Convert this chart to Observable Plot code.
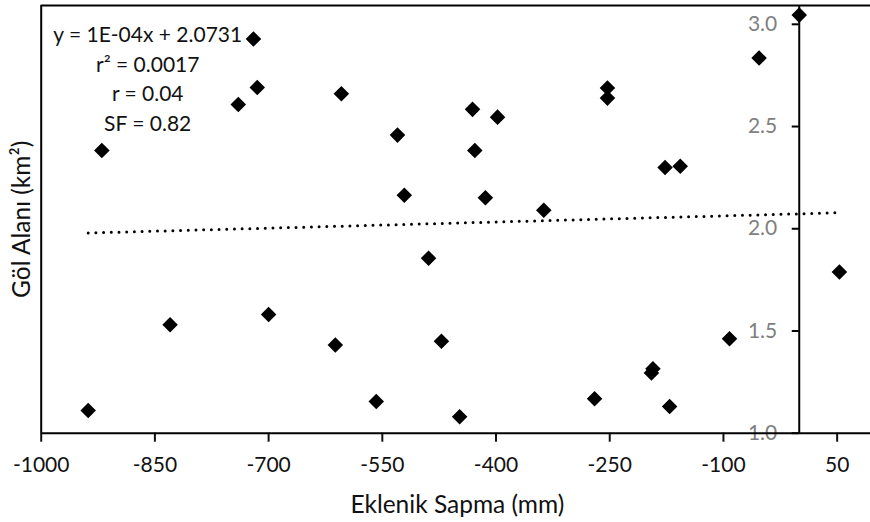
<!DOCTYPE html>
<html><head><meta charset="utf-8">
<script src="https://cdn.jsdelivr.net/npm/d3@7"></script>
<script src="https://cdn.jsdelivr.net/npm/@observablehq/plot@0.6"></script>
<style>body{margin:0;background:#fff;}</style>
</head><body><div id="chart"></div>
<script>
const xValues = [-720, -715, -740, -920, -604, -530, -431, -398, -428, -521, -414, -337, -253, -253, -177, -157, -53, 0, -938, -830, -700, -489, -612, -472, -558, -448, -270, -195, -193, -171, -92, 53];
const yValues = [2.928, 2.691, 2.608, 2.383, 2.660, 2.458, 2.584, 2.546, 2.383, 2.164, 2.152, 2.091, 2.688, 2.639, 2.300, 2.306, 2.835, 3.045, 1.111, 1.530, 1.581, 1.856, 1.431, 1.450, 1.155, 1.080, 1.168, 1.295, 1.315, 1.131, 1.462, 1.788];
const xTicks = [-1000, -850, -700, -550, -400, -250, -100, 50];
const yTicks = [1.0, 1.5, 2.0, 2.5, 3.0];
const xDomain = [-1000, 94];
const yDomain = [1.0, 3.092];
const trendSlope = 1e-4;
const trendIntercept = 2.0731;
const statLines = ["y = 1E-04x + 2.0731", "r\u00B2 = 0.0017", "r = 0.04", "SF = 0.82"];
const xTitle = "Eklenik Sapma (mm)";
const yTitle = "Göl Alanı (km\u00B2)";

const points = xValues.map((x, i) => ({x, y: yValues[i]}));
const trend = d3.extent(xValues).map(x => ({x, y: trendSlope * x + trendIntercept}));
const font = "Lato, 'Open Sans', sans-serif";

const chart = Plot.plot({
  width: 870, height: 522,
  marginLeft: 40.7, marginRight: 0, marginTop: 5, marginBottom: 89.3,
  style: {fontFamily: font, fontSize: "21px", color: "#111", background: "#fff", overflow: "visible"},
  x: {domain: xDomain, axis: null},
  y: {domain: yDomain, axis: null},
  marks: [
    Plot.axisX({ticks: xTicks, tickSize: 9, tickPadding: 15, tickFormat: d => String(d), strokeWidth: 2, label: null, fill: "#111", fontSize: 21}),
    Plot.ruleY([yDomain[1]], {stroke: "#000", strokeWidth: 2}),
    Plot.ruleX([xDomain[0]], {stroke: "#000", strokeWidth: 2}),
    Plot.ruleX([0], {stroke: "#000", strokeWidth: 2}),
    Plot.ruleY(yTicks, {y: d => d, x1: 0, x2: 0, insetLeft: -7, stroke: "#000", strokeWidth: 2}),
    Plot.text(yTicks, {x: 0, y: d => d, text: d => d.toFixed(1), textAnchor: "end", dx: -22, fill: "#808080", fontSize: 21}),
    Plot.line(trend, {x: "x", y: "y", stroke: "#000", strokeWidth: 3, strokeDasharray: "0 7.7", strokeLinecap: "round"}),
    Plot.dot(points, {x: "x", y: "y", symbol: "diamond2", r: 7, fill: "#000"}),
    Plot.text([statLines.join("\n")], {frameAnchor: "top-left", dx: 106.5, dy: 16, textAnchor: "middle", lineAnchor: "top", lineHeight: 1.4, fontSize: 21, fill: "#111"}),
    Plot.text([xTitle], {frameAnchor: "bottom", dx: 1.5, dy: 79.8, textAnchor: "middle", lineAnchor: "bottom", fontSize: 24.5, fill: "#111"}),
    Plot.text([yTitle], {frameAnchor: "left", rotate: -90, dx: -11.2, textAnchor: "middle", lineAnchor: "bottom", fontSize: 24.5, fill: "#111"}),
    Plot.ruleY([yDomain[0]], {stroke: "#000", strokeWidth: 2})
  ]
});
document.getElementById("chart").appendChild(chart);
</script>
</body></html>
